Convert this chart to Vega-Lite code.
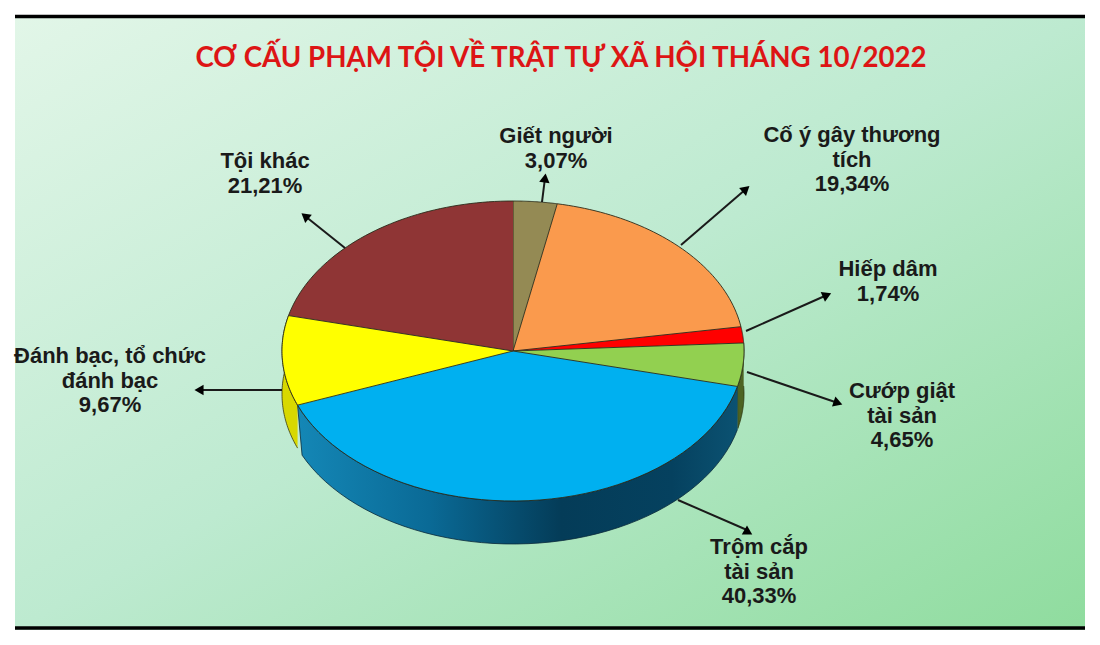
{
"$schema":"https://vega.github.io/schema/vega-lite/v6.json",
"autosize":{"type":"none"},
"width":1070,"height":615,
"padding":{"left":15,"top":15,"right":15,"bottom":15},
"background":"white",
"title":{"text":"CƠ CẤU PHẠM TỘI VỀ TRẬT TỰ XÃ HỘI THÁNG 10/2022","anchor":"middle","frame":"group","orient":"top","offset":0,"dx":11,"dy":58,"font":"Lato","fontSize":27.7,"fontWeight":"bold","color":"#dd1515"},
"config":{"view":{"stroke":null,"fill":{"gradient":"linear","x1":0,"y1":0,"x2":1,"y2":1,"stops":[{"offset":0,"color":"#e2f6e8"},{"offset":0.5,"color":"#bdead0"},{"offset":1,"color":"#8fdc9e"}]}},"axis":{"disable":true},"text":{"font":"Liberation Sans","fontSize":22,"fontWeight":"bold","color":"#1a1a1a","lineHeight":24.5,"baseline":"middle","align":"center"}},
"data":{"values":[
{"order":1,"name":"Giết người","share":3.07,"label":["Giết người","3,07%"]},
{"order":2,"name":"Cố ý gây thương tích","share":19.34,"label":["Cố ý gây thương","tích","19,34%"]},
{"order":3,"name":"Hiếp dâm","share":1.74,"label":["Hiếp dâm","1,74%"]},
{"order":4,"name":"Cướp giật tài sản","share":4.65,"label":["Cướp giật","tài sản","4,65%"]},
{"order":5,"name":"Trộm cắp tài sản","share":40.33,"label":["Trộm cắp","tài sản","40,33%"]},
{"order":6,"name":"Đánh bạc, tổ chức đánh bạc","share":9.67,"label":["Đánh bạc, tổ chức","đánh bạc","9,67%"]},
{"order":7,"name":"Tội khác","share":21.21,"label":["Tội khác","21,21%"]}
]},
"layer":[
{"mark":{"type":"rule","color":"#000000","strokeWidth":3.5},"transform":[{"filter":"datum.order==1"}],"encoding":{"y":{"datum":334.5,"scale":{"domain":[-279,336],"nice":false,"zero":false}}}},
{"mark":{"type":"rule","color":"#000000","strokeWidth":3.5},"transform":[{"filter":"datum.order==1"}],"encoding":{"y":{"datum":-277}}},
{"transform":[
{"stack":"share","groupby":[],"sort":[{"field":"order"}],"offset":"normalize","as":["s0","s1"]},
{"calculate":"sequence(0,2.001,0.02)","as":"ts"},{"flatten":["ts"],"as":["t"]},
{"calculate":"2*PI*(datum.s0+(datum.t<=1?datum.t:2-datum.t)*(datum.s1-datum.s0))","as":"a"},
{"calculate":"231*sin(datum.a)","as":"px"},
{"calculate":"150*cos(datum.a)-(datum.t>1?43:0)","as":"py"}],
"encoding":{"x":{"field":"px","type":"quantitative","scale":{"domain":[-498,572],"nice":false,"zero":false}},"y":{"field":"py","type":"quantitative","scale":{"domain":[-279,336],"nice":false,"zero":false}},"order":{"field":"t"},"detail":{"field":"name"}},
"layer":[
{"transform":[{"filter":"datum.order==6"}],"mark":{"type":"line","fill":"#d8d800","stroke":"#3a3a10","strokeWidth":0.8}},
{"transform":[{"filter":"datum.order==4"}],"mark":{"type":"line","fill":"#4d6322","stroke":"#2a3510","strokeWidth":0.8}},
{"transform":[{"filter":"datum.order==5"}],"mark":{"type":"line","stroke":"#0a2a3a","strokeWidth":0.8,"fill":{"gradient":"linear","x1":0,"y1":0,"x2":1,"y2":0,"stops":[{"offset":0,"color":"#1487b6"},{"offset":0.3,"color":"#0a6a96"},{"offset":0.6,"color":"#043c58"},{"offset":0.85,"color":"#05415f"},{"offset":1,"color":"#0b5272"}]}}}
]},
{"transform":[
{"stack":"share","groupby":[],"sort":[{"field":"order"}],"offset":"normalize","as":["s0","s1"]},
{"calculate":"sequence(-0.02,1.001,0.02)","as":"ts"},{"flatten":["ts"],"as":["t"]},
{"calculate":"2*PI*(datum.s0+datum.t*(datum.s1-datum.s0))","as":"a"},
{"calculate":"datum.t<0?0:231*sin(datum.a)","as":"px"},
{"calculate":"datum.t<0?0:150*cos(datum.a)","as":"py"}],
"mark":{"type":"line","stroke":"#2a2a1a","strokeWidth":0.9},
"encoding":{"x":{"field":"px","type":"quantitative"},"y":{"field":"py","type":"quantitative"},"order":{"field":"t"},"detail":{"field":"name"},
"fill":{"field":"name","type":"nominal","legend":null,"scale":{"domain":["Giết người","Cố ý gây thương tích","Hiếp dâm","Cướp giật tài sản","Trộm cắp tài sản","Đánh bạc, tổ chức đánh bạc","Tội khác"],"range":["#948a54","#fa9a4d","#ff0000","#92d050","#00b0f0","#ffff00","#8f3535"]}}}},
{"transform":[{"filter":"datum.order==1"}],"layer":[
{"mark":{"type":"rule","color":"#1a1a1a","strokeWidth":2},"encoding":{"x":{"datum":29},"y":{"datum":149},"x2":{"datum":32},"y2":{"datum":173}}},
{"mark":{"type":"point","shape":"triangle-up","filled":true,"color":"#000","opacity":1,"size":110,"angle":8},"encoding":{"x":{"datum":32},"y":{"datum":173}}},
{"mark":{"type":"text"},"encoding":{"x":{"datum":43},"y":{"datum":215},"text":{"field":"label"}}}]},
{"transform":[{"filter":"datum.order==2"}],"layer":[
{"mark":{"type":"rule","color":"#1a1a1a","strokeWidth":2},"encoding":{"x":{"datum":168},"y":{"datum":106},"x2":{"datum":233},"y2":{"datum":162}}},
{"mark":{"type":"point","shape":"triangle-up","filled":true,"color":"#000","opacity":1,"size":110,"angle":49},"encoding":{"x":{"datum":233},"y":{"datum":162}}},
{"mark":{"type":"text"},"encoding":{"x":{"datum":339},"y":{"datum":216},"text":{"field":"label"}}}]},
{"transform":[{"filter":"datum.order==3"}],"layer":[
{"mark":{"type":"rule","color":"#1a1a1a","strokeWidth":2},"encoding":{"x":{"datum":233},"y":{"datum":20},"x2":{"datum":314},"y2":{"datum":56}}},
{"mark":{"type":"point","shape":"triangle-up","filled":true,"color":"#000","opacity":1,"size":110,"angle":66},"encoding":{"x":{"datum":314},"y":{"datum":56}}},
{"mark":{"type":"text"},"encoding":{"x":{"datum":375},"y":{"datum":82},"text":{"field":"label"}}}]},
{"transform":[{"filter":"datum.order==4"}],"layer":[
{"mark":{"type":"rule","color":"#1a1a1a","strokeWidth":2},"encoding":{"x":{"datum":234},"y":{"datum":-21},"x2":{"datum":325},"y2":{"datum":-52}}},
{"mark":{"type":"point","shape":"triangle-up","filled":true,"color":"#000","opacity":1,"size":110,"angle":109},"encoding":{"x":{"datum":325},"y":{"datum":-52}}},
{"mark":{"type":"text"},"encoding":{"x":{"datum":389},"y":{"datum":-40},"text":{"field":"label"}}}]},
{"transform":[{"filter":"datum.order==5"}],"layer":[
{"mark":{"type":"rule","color":"#1a1a1a","strokeWidth":2},"encoding":{"x":{"datum":165},"y":{"datum":-149},"x2":{"datum":234},"y2":{"datum":-179}}},
{"mark":{"type":"point","shape":"triangle-up","filled":true,"color":"#000","opacity":1,"size":110,"angle":0},"encoding":{"x":{"datum":234},"y":{"datum":-179}}},
{"mark":{"type":"text"},"encoding":{"x":{"datum":246},"y":{"datum":-196},"text":{"field":"label"}}}]},
{"transform":[{"filter":"datum.order==6"}],"layer":[
{"mark":{"type":"rule","color":"#1a1a1a","strokeWidth":2},"encoding":{"x":{"datum":-231},"y":{"datum":-39},"x2":{"datum":-314},"y2":{"datum":-39}}},
{"mark":{"type":"point","shape":"triangle-up","filled":true,"color":"#000","opacity":1,"size":110,"angle":270},"encoding":{"x":{"datum":-314},"y":{"datum":-39}}},
{"mark":{"type":"text"},"encoding":{"x":{"datum":-403},"y":{"datum":-5},"text":{"field":"label"}}}]},
{"transform":[{"filter":"datum.order==7"}],"layer":[
{"mark":{"type":"rule","color":"#1a1a1a","strokeWidth":2},"encoding":{"x":{"datum":-168},"y":{"datum":103},"x2":{"datum":-208},"y2":{"datum":135}}},
{"mark":{"type":"point","shape":"triangle-up","filled":true,"color":"#000","opacity":1,"size":110,"angle":309},"encoding":{"x":{"datum":-208},"y":{"datum":135}}},
{"mark":{"type":"text"},"encoding":{"x":{"datum":-248},"y":{"datum":190},"text":{"field":"label"}}}]}
]
}
